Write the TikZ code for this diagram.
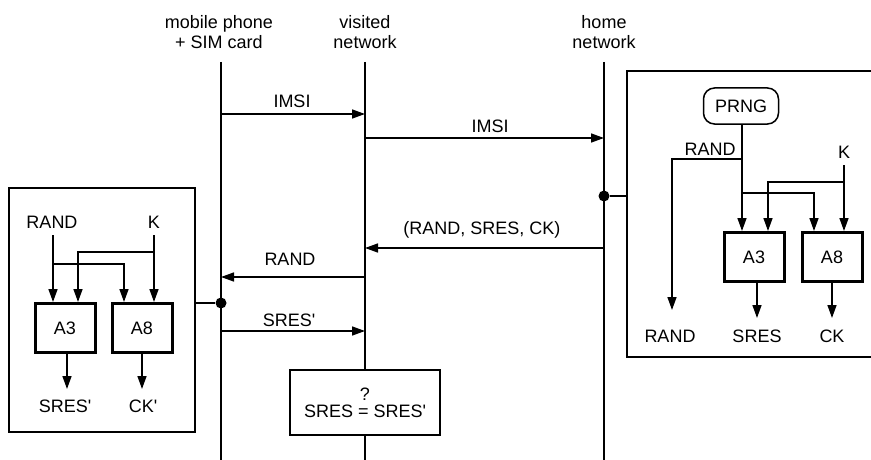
\documentclass[tikz,border=0pt]{standalone}
\usepackage{fontspec}
\setmainfont{Liberation Sans}
\usetikzlibrary{arrows.meta}
\newcommand{\aq}{\textquotesingle}
\begin{document}
\begin{tikzpicture}[x=1pt,y=-1pt,
  txt/.style={font=\fontsize{18}{20}\selectfont, inner sep=0pt, align=center},
  thin/.style={line width=1.5pt},
  arr/.style={thin, -{Triangle[length=13pt,width=9pt]}},
  algo/.style={draw, line width=3pt, minimum width=60pt, minimum height=49pt, txt},
  frame/.style={draw, thin},
  link/.style={line width=2.8pt},
  dotc/.style={circle, fill=black, inner sep=0pt, minimum size=11pt}
]
\useasboundingbox (0,0) rectangle (871,460);

% lifeline headers
\node[txt] (hm) at (219,32) {mobile phone\\+ SIM card};
\node[txt] (hv) at (365,32) {visited\\network};
\node[txt] (hh) at (604,32) {home\\network};

% lifeline coordinates
\coordinate (mt) at (221,62); \coordinate (mb) at (221,460);
\coordinate (vt) at (365,62); \coordinate (vb) at (365,460);
\coordinate (ht) at (604,62); \coordinate (hb) at (604,460);

% check box
\node[frame, minimum width=150pt, minimum height=65pt] (chk) at (365,402.5) {};
\node[txt] (chkt) at (365,411) {SRES = SRES\aq};
\node[txt] (chkq) at (365,394) {?};

\draw[thin] (mt) -- (mb);
\draw[thin] (vt) -- (chk.north);
\draw[thin] (chk.south) -- (vb);
\draw[thin] (ht) -- (hb);

% message endpoints
\coordinate (m1) at (221,114); \coordinate (v1) at (365,114);
\coordinate (v2) at (365,138); \coordinate (h2) at (604,138);
\coordinate (h3) at (604,248); \coordinate (v3) at (365,248);
\coordinate (v4) at (365,277); \coordinate (m4) at (221,277);
\coordinate (m5) at (221,331); \coordinate (v5) at (365,331);

\draw[arr] (m1) -- (v1);
\node[txt] (l1) at (292,101) {IMSI};
\draw[arr] (v2) -- (h2);
\node[txt] (l2) at (490,126) {IMSI};
\draw[arr] (h3) -- (v3);
\node[txt] (l3) at (482,230) {(RAND, SRES, CK)};
\draw[arr] (v4) -- (m4);
\node[txt] (l4) at (290,259) {RAND};
\draw[arr] (m5) -- (v5);
\node[txt] (l5) at (289,320) {SRES\aq};

% ---------- left box (mobile phone) ----------
\node[frame, minimum width=186pt, minimum height=244pt] (lbox) at (102,310) {};
\node[dotc] (ldot) at (221,303) {};
\draw[link] (lbox.east |- ldot) -- (ldot);

\node[txt] (lr) at (52,222) {RAND};
\node[txt] (lk) at (154,222) {K};
\node[algo] (la3) at (65,328) {A3};
\node[algo] (la8) at (142,328) {A8};

\draw[arr] (53,235) -- (53,0 |- la3.north);
\draw[arr] (53,264) -| (124,0 |- la8.north);
\draw[arr] (154,235) -- (154,0 |- la8.north);
\draw[arr] (154,252) -| (78,0 |- la3.north);

\node[txt] (lo1) at (65,406) {SRES\aq};
\node[txt] (lo2) at (143,406) {CK\aq};
\draw[arr] (67,0 |- la3.south) -- (67,389);
\draw[arr] (la8.south) -- (142,389);

% ---------- right box (home network) ----------
\draw[thin] (871,71) -| (627,357) -- (871,357);
\node[dotc] (rdot) at (604,196) {};
\draw[link] (rdot) -- (627,196);

\node[draw, thin, rounded corners=11pt, minimum width=75pt, minimum height=36pt, txt] (prng) at (741,106) {PRNG};
\node[txt] (rr) at (710,149) {RAND};
\node[txt] (rk) at (844,152) {K};
\node[algo] (ra3) at (754,257) {A3};
\node[algo] (ra8) at (832,257) {A8};

\draw[arr] (742,0 |- prng.south) -- (742,0 |- ra3.north);
\draw[arr] (742,159) -| (672,310);
\draw[arr] (742,193) -| (814,0 |- ra8.north);
\draw[arr] (844,165) -- (844,0 |- ra8.north);
\draw[arr] (844,182) -| (768,0 |- ra3.north);

\node[txt] (ro1) at (670,336) {RAND};
\node[txt] (ro2) at (757,336) {SRES};
\node[txt] (ro3) at (832,336) {CK};
\draw[arr] (757,0 |- ra3.south) -- (757,318);
\draw[arr] (ra8.south) -- (832,318);
\end{tikzpicture}
\end{document}
